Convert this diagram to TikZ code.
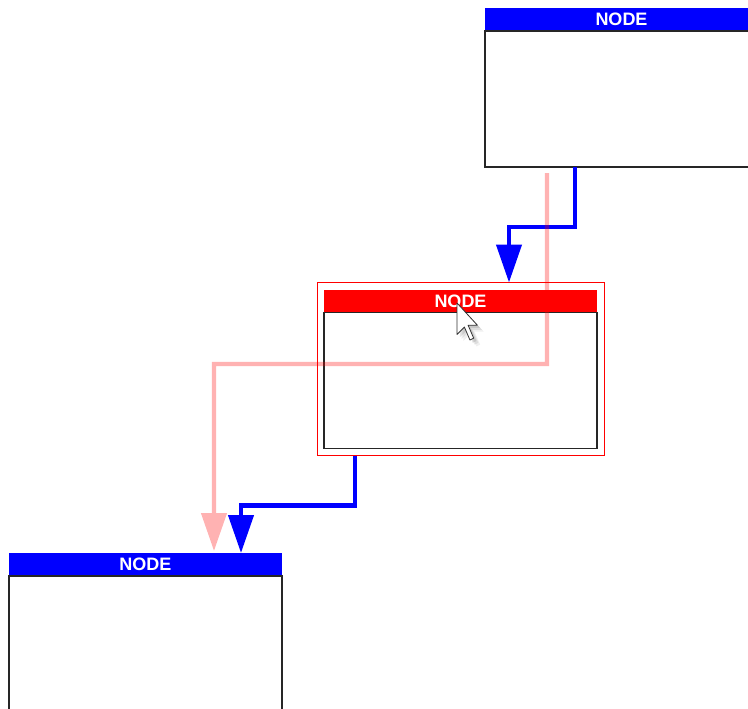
\documentclass[tikz,border=0pt]{standalone}
\usepackage{fontspec}
\setmainfont{Liberation Sans}
\usetikzlibrary{arrows.meta, positioning, fit}
\definecolor{nodeblue}{RGB}{0, 0, 255}
\definecolor{selred}{RGB}{255, 0, 0}
\newcommand\pointershape{(0,0) -- (0,17) -- (4,13) -- (7,20) -- (9,19) -- (6,12) -- (11,12) -- cycle}

\begin{document}
\begin{tikzpicture}[x=1pt, y=-1pt,
  hdr/.style={minimum width=273pt, minimum height=23pt, inner sep=0pt, outer sep=0pt, text=white, font=\fontsize{18}{18}\selectfont\bfseries},
  body/.style={draw=black!85, line width=1.2pt, fill=white, minimum width=273pt, minimum height=136pt, inner sep=0pt, outer sep=0pt, below=0pt of #1},
  link/.style={draw=nodeblue, line width=4.3pt, -{Triangle[length=38pt, width=25pt]}},
  ghost/.style={draw=selred, line width=4.3pt, -{Triangle[length=38pt, width=25pt]}}
]
  \useasboundingbox (0,0) rectangle (748,709);
  \clip (0,0) rectangle (748,709);

  % Top node
  \node[hdr, fill=nodeblue] (th) at (621.5, 19.5) {NODE};
  \node[body=th] (tb) {};

  % Selected node
  \node[hdr, fill=selred] (mh) at (460.5, 301) {NODE};
  \node[body=mh] (mb) {};
  \node[draw=selred, line width=0.9pt, inner sep=7pt, outer sep=0pt, fit=(mh)(mb)] (sel) {};

  % Bottom node
  \node[hdr, fill=nodeblue] (bh) at (145.5, 564.5) {NODE};
  \node[body=bh] (bb) {};

  \draw[link] ([xshift=-46.5pt]tb.south) -- ++(0,60) -| ([xshift=48.5pt]sel.north);
  \draw[link] ([xshift=-105.5pt]sel.south) -- ++(0,50) -| ([xshift=95.5pt]bh.north);

  % Dragged link, drawn faded over the selection
  \begin{scope}[transparency group, opacity=0.3]
    \draw[ghost] ([xshift=-74.5pt, yshift=-6pt]tb.south) -- ++(0,191) -| ([xshift=68.5pt, yshift=2pt]bh.north);
  \end{scope}

  % Mouse pointer
  \begin{scope}[shift={(457,303)}, scale=1.85]
    \foreach \s/\o in {1.5/0.10, 2.5/0.08, 3.5/0.06}
      \fill[black, opacity=\o, shift={(\s,\s)}] \pointershape;
    \filldraw[fill=white, draw=black!80, line width=0.8pt, line join=round] \pointershape;
  \end{scope}
\end{tikzpicture}
\end{document}
